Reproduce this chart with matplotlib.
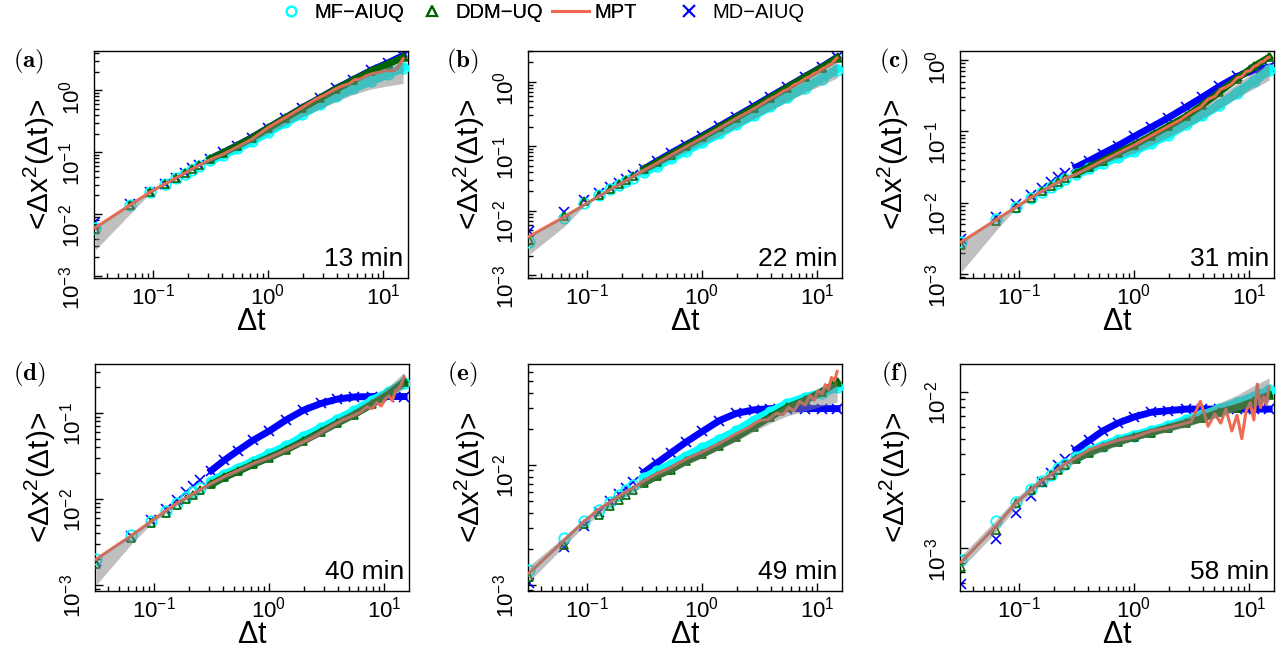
import numpy as np
import matplotlib
matplotlib.use("Agg")
import matplotlib.pyplot as plt
from matplotlib.lines import Line2D
from matplotlib.ticker import LogLocator, NullFormatter, LogFormatterSciNotation

plt.rcParams["font.family"] = ["Liberation Sans", "DejaVu Sans"]
plt.rcParams["mathtext.fontset"] = "custom"
plt.rcParams["mathtext.rm"] = "Liberation Sans"
plt.rcParams["mathtext.it"] = "Liberation Sans:italic"
plt.rcParams["mathtext.bf"] = "Liberation Sans:bold"

# lag times (s) at which the estimator markers are shown
lag_marker = [0.0315, 0.063, 0.0945, 0.126, 0.1575, 0.189, 0.2205, 0.252, 0.315,
              0.4095, 0.5355, 0.7245, 1.008, 1.4175, 1.9845, 2.835, 3.9375,
              5.5125, 7.875, 11.025, 14.9625]
# lag times (s) for the MPT curve
lag_mpt = [0.0315, 0.063, 0.0945, 0.126, 0.1575, 0.189, 0.2205, 0.252, 0.315,
           0.4095, 0.5355, 0.7245, 1.008, 1.4175, 1.9845, 2.52, 3.15, 3.78, 4.41,
           5.04, 5.67, 6.3, 7.0875, 7.875, 8.6625, 9.45, 10.2375, 11.025,
           11.8125, 12.6, 13.3875, 14.175, 14.9625]

panel_tags = ["(a)", "(b)", "(c)", "(d)", "(e)", "(f)"]
times = ["13 min", "22 min", "31 min", "40 min", "49 min", "58 min"]

# MSD values, given as log10 of <dx^2>
mf_a = [-2.22, -1.855, -1.645, -1.516, -1.425, -1.345, -1.28, -1.22, -1.13, -1.04, -0.94,
        -0.82, -0.67, -0.52, -0.38, -0.23, -0.10, 0.03, 0.15, 0.26, 0.36]
ddm_a = [-2.24, -1.86, -1.645, -1.515, -1.415, -1.335, -1.265, -1.205, -1.11, -1.01, -0.90,
         -0.77, -0.61, -0.45, -0.29, -0.13, 0.02, 0.16, 0.31, 0.42, 0.53]
md_a = [-2.13, -1.84, -1.64, -1.51, -1.41, -1.33, -1.26, -1.20, -1.105, -1.005, -0.895,
        -0.765, -0.605, -0.445, -0.285, -0.125, 0.03, 0.17, 0.32, 0.44, 0.56]
mpt_a = [-2.22, -1.855, -1.645, -1.516, -1.42, -1.34, -1.27, -1.21, -1.12, -1.03, -0.92,
         -0.79, -0.60, -0.44, -0.28, -0.16, -0.07, 0.01, 0.07, 0.10, 0.17, 0.18, 0.23,
         0.26, 0.28, 0.29, 0.31, 0.32, 0.31, 0.32, 0.36, 0.44, 0.51]
lo_a = [-2.58, -2.00, -1.66, -1.53, -1.44, -1.36, -1.29, -1.23, -1.15, -1.06, -0.96,
        -0.84, -0.70, -0.56, -0.43, -0.30, -0.18, -0.07, 0.02, 0.07, 0.11]
hi_a = [-2.22, -1.85, -1.64, -1.51, -1.41, -1.33, -1.26, -1.20, -1.11, -1.01, -0.90,
        -0.77, -0.61, -0.45, -0.29, -0.13, 0.02, 0.15, 0.28, 0.38, 0.47]

mf_b = [-2.48, -2.11, -1.88, -1.76, -1.67, -1.60, -1.54, -1.49, -1.40, -1.30, -1.19,
        -1.07, -0.94, -0.80, -0.66, -0.52, -0.38, -0.24, -0.09, 0.05, 0.19]
ddm_b = [-2.46, -2.08, -1.85, -1.75, -1.66, -1.58, -1.52, -1.46, -1.36, -1.25, -1.13,
         -1.00, -0.86, -0.71, -0.56, -0.40, -0.25, -0.09, 0.07, 0.22, 0.37]
md_b = [-2.31, -2.02, -1.84, -1.73, -1.64, -1.57, -1.51, -1.45, -1.35, -1.23, -1.11,
        -0.98, -0.84, -0.69, -0.54, -0.38, -0.23, -0.08, 0.08, 0.23, 0.38]
mpt_b = [-2.40, -2.10, -1.91, -1.78, -1.68, -1.60, -1.53, -1.47, -1.37, -1.26, -1.14,
         -1.01, -0.87, -0.72, -0.57, -0.47, -0.37, -0.28, -0.22, -0.15, -0.11, -0.05,
         -0.01, 0.05, 0.08, 0.13, 0.15, 0.20, 0.22, 0.26, 0.28, 0.33, 0.37]
lo_b = [-2.68, -2.25, -1.93, -1.79, -1.69, -1.62, -1.56, -1.50, -1.41, -1.31, -1.21,
        -1.09, -0.97, -0.84, -0.71, -0.57, -0.44, -0.31, -0.17, -0.05, 0.06]
hi_b = [-2.40, -2.09, -1.88, -1.75, -1.65, -1.58, -1.51, -1.45, -1.35, -1.24, -1.12,
        -0.99, -0.85, -0.70, -0.55, -0.40, -0.26, -0.11, 0.05, 0.19, 0.33]

mf_c = [-2.55, -2.23, -2.06, -1.94, -1.85, -1.78, -1.72, -1.67, -1.60, -1.52, -1.44,
        -1.36, -1.27, -1.16, -1.05, -0.90, -0.77, -0.63, -0.46, -0.30, -0.14]
ddm_c = [-2.59, -2.25, -2.07, -1.94, -1.84, -1.77, -1.71, -1.66, -1.59, -1.50, -1.41,
         -1.30, -1.19, -1.06, -0.93, -0.79, -0.63, -0.45, -0.26, -0.09, 0.04]
md_c = [-2.51, -2.20, -2.02, -1.89, -1.79, -1.71, -1.645, -1.59, -1.50, -1.41, -1.31,
        -1.20, -1.07, -0.94, -0.81, -0.66, -0.52, -0.37, -0.23, -0.14, -0.10]
mpt_c = [-2.55, -2.24, -2.06, -1.93, -1.84, -1.77, -1.71, -1.66, -1.60, -1.505, -1.41,
         -1.305, -1.19, -1.06, -0.93, -0.84, -0.73, -0.66, -0.55, -0.51, -0.41, -0.38,
         -0.33, -0.25, -0.23, -0.16, -0.15, -0.09, -0.07, -0.03, -0.02, 0.02, 0.04]
lo_c = [-2.97, -2.39, -2.08, -1.96, -1.87, -1.80, -1.74, -1.69, -1.62, -1.54, -1.46,
        -1.38, -1.30, -1.19, -1.08, -0.95, -0.82, -0.68, -0.53, -0.40, -0.28]
hi_c = [-2.55, -2.23, -2.05, -1.92, -1.83, -1.76, -1.70, -1.65, -1.58, -1.49, -1.40,
        -1.30, -1.19, -1.07, -0.95, -0.81, -0.66, -0.50, -0.33, -0.17, -0.04]

mf_d = [-2.70, -2.42, -2.26, -2.14, -2.05, -1.98, -1.92, -1.87, -1.80, -1.72, -1.65,
        -1.57, -1.48, -1.39, -1.28, -1.18, -1.08, -0.98, -0.86, -0.76, -0.65]
ddm_d = [-2.76, -2.45, -2.28, -2.16, -2.07, -2.00, -1.95, -1.90, -1.83, -1.75, -1.68,
         -1.60, -1.52, -1.43, -1.33, -1.22, -1.12, -1.02, -0.90, -0.78, -0.64]
md_d = [-2.72, -2.43, -2.25, -2.12, -2.01, -1.92, -1.85, -1.78, -1.67, -1.55, -1.44,
        -1.32, -1.21, -1.08, -0.97, -0.89, -0.84, -0.815, -0.81, -0.81, -0.81]
mpt_d = [-2.70, -2.43, -2.26, -2.14, -2.05, -1.99, -1.94, -1.89, -1.82, -1.74, -1.67,
         -1.59, -1.52, -1.43, -1.34, -1.27, -1.19, -1.13, -1.08, -1.05, -1.02, -0.99,
         -0.93, -0.95, -0.88, -0.92, -0.84, -0.80, -0.86, -0.74, -0.72, -0.66, -0.58]
lo_d = [-3.00, -2.53, -2.29, -2.17, -2.08, -2.02, -1.97, -1.92, -1.85, -1.77, -1.70,
        -1.62, -1.55, -1.46, -1.36, -1.26, -1.15, -1.05, -0.93, -0.82, -0.72]
hi_d = [-2.69, -2.41, -2.25, -2.13, -2.04, -1.97, -1.92, -1.87, -1.80, -1.72, -1.64,
        -1.56, -1.48, -1.39, -1.29, -1.18, -1.07, -0.96, -0.83, -0.69, -0.53]

mf_e = [-2.875, -2.61, -2.47, -2.375, -2.31, -2.25, -2.21, -2.17, -2.11, -2.05, -2.00,
        -1.93, -1.86, -1.79, -1.72, -1.63, -1.56, -1.49, -1.44, -1.40, -1.35]
ddm_e = [-2.93, -2.67, -2.49, -2.42, -2.34, -2.29, -2.25, -2.21, -2.15, -2.09, -2.04,
         -1.97, -1.91, -1.84, -1.77, -1.68, -1.60, -1.52, -1.46, -1.39, -1.31]
md_e = [-2.98, -2.68, -2.51, -2.39, -2.30, -2.24, -2.19, -2.14, -2.06, -1.98, -1.90,
        -1.81, -1.72, -1.63, -1.57, -1.54, -1.53, -1.53, -1.53, -1.53, -1.53]
mpt_e = [-2.90, -2.63, -2.47, -2.37, -2.31, -2.26, -2.22, -2.19, -2.13, -2.07, -2.02,
         -1.95, -1.89, -1.82, -1.74, -1.69, -1.63, -1.62, -1.57, -1.58, -1.52, -1.55,
         -1.47, -1.50, -1.42, -1.46, -1.38, -1.41, -1.33, -1.37, -1.27, -1.30, -1.22]
lo_e = [-2.97, -2.68, -2.51, -2.42, -2.35, -2.30, -2.26, -2.23, -2.17, -2.11, -2.06,
        -2.00, -1.94, -1.87, -1.80, -1.72, -1.65, -1.59, -1.55, -1.51, -1.475]
hi_e = [-2.84, -2.60, -2.45, -2.36, -2.29, -2.24, -2.20, -2.17, -2.11, -2.05, -2.00,
        -1.93, -1.87, -1.80, -1.73, -1.65, -1.57, -1.49, -1.42, -1.36, -1.30]

mf_f = [-3.077, -2.83, -2.705, -2.62, -2.57, -2.53, -2.49, -2.46, -2.42, -2.38, -2.345,
        -2.31, -2.28, -2.25, -2.22, -2.18, -2.15, -2.11, -2.07, -2.03, -1.99]
ddm_f = [-3.12, -2.885, -2.71, -2.63, -2.575, -2.535, -2.50, -2.47, -2.43, -2.39, -2.355,
         -2.32, -2.29, -2.26, -2.23, -2.20, -2.17, -2.13, -2.10, -2.06, -2.02]
md_f = [-3.23, -2.94, -2.775, -2.67, -2.58, -2.52, -2.47, -2.43, -2.37, -2.31, -2.25,
        -2.20, -2.16, -2.13, -2.12, -2.11, -2.11, -2.11, -2.11, -2.11, -2.11]
mpt_f = [-3.09, -2.86, -2.71, -2.63, -2.57, -2.53, -2.49, -2.46, -2.42, -2.37, -2.34,
         -2.31, -2.29, -2.25, -2.23, -2.21, -2.19, -2.06, -2.22, -2.14, -2.20, -2.11,
         -2.25, -2.15, -2.30, -2.12, -2.07, -2.18, -1.95, -2.10, -2.03, -2.08, -1.97]
lo_f = [-3.13, -2.90, -2.74, -2.65, -2.60, -2.56, -2.52, -2.49, -2.45, -2.41, -2.38,
        -2.345, -2.31, -2.28, -2.255, -2.225, -2.19, -2.16, -2.12, -2.09, -2.06]
hi_f = [-3.05, -2.82, -2.68, -2.60, -2.55, -2.51, -2.475, -2.445, -2.40, -2.36, -2.325,
        -2.29, -2.26, -2.23, -2.20, -2.16, -2.12, -2.07, -2.02, -1.96, -1.91]

# y-axis limits of each panel
ylims = [(0.00093, 4.3), (0.0009, 3.0), (0.00088, 1.34),
         (0.00085, 0.37), (0.00089, 0.0695), (0.00053, 0.0151)]

panels = [
    (mf_a, ddm_a, md_a, mpt_a, lo_a, hi_a),
    (mf_b, ddm_b, md_b, mpt_b, lo_b, hi_b),
    (mf_c, ddm_c, md_c, mpt_c, lo_c, hi_c),
    (mf_d, ddm_d, md_d, mpt_d, lo_d, hi_d),
    (mf_e, ddm_e, md_e, mpt_e, lo_e, hi_e),
    (mf_f, ddm_f, md_f, mpt_f, lo_f, hi_f),
]

CYAN = "#00FFFF"
GREEN = "#006400"
CORAL = "#EE6A50"
BLUE = "#0000FF"

W, H = 1286, 655
AX_W, AX_H = 314, 227
boxes = [(94, 51), (528, 51), (960, 51), (95, 364), (528, 364), (960, 364)]
ylabel_off = [55, 59, 67, 55, 58, 65]

fig = plt.figure(figsize=(W / 100, H / 100), dpi=100)

t = np.array(lag_marker)
tm = np.array(lag_mpt)
dense = slice(8, None)

for i, (mf, ddm, md, mpt, lo, hi) in enumerate(panels):
    left, top = boxes[i]
    ax = fig.add_axes([left / W, 1 - (top + AX_H) / H, AX_W / W, AX_H / H])
    mf = 10 ** np.array(mf)
    ddm = 10 ** np.array(ddm)
    md = 10 ** np.array(md)
    mpt = 10 ** np.array(mpt)
    lo = 10 ** np.array(lo)
    hi = 10 ** np.array(hi)

    ax.plot(t[dense], md[dense], color=BLUE, lw=5, zorder=2)
    ax.plot(t, md, ls="none", marker="x", color=BLUE, ms=6.5, mew=1.2, zorder=2)
    ax.plot(t[dense], mf[dense], color=CYAN, lw=6.5, solid_capstyle="round", zorder=3)
    ax.plot(t, mf, ls="none", marker="o", mfc="none", mec=CYAN, ms=7.5, mew=1.3, zorder=3)
    ax.plot(t[dense], ddm[dense], color=GREEN, lw=5, zorder=4)
    ax.plot(t, ddm, ls="none", marker="^", mfc="none", mec=GREEN, ms=6, mew=1.2, zorder=4)
    ax.plot(tm, mpt, color=CORAL, lw=2.2, zorder=5)
    ax.fill_between(t, lo, hi, color="#808080", alpha=0.5, lw=0, zorder=6)

    ax.set_xscale("log")
    ax.set_yscale("log")
    ax.set_xlim(0.0307, 16.5)
    ax.set_ylim(*ylims[i])
    ax.xaxis.set_major_locator(LogLocator(base=10, numticks=10))
    ax.yaxis.set_major_locator(LogLocator(base=10, numticks=10))
    for axis in (ax.xaxis, ax.yaxis):
        axis.set_minor_locator(LogLocator(base=10, subs=np.arange(2, 10), numticks=20))
        axis.set_minor_formatter(NullFormatter())
        axis.set_major_formatter(LogFormatterSciNotation())
    ax.tick_params(which="both", direction="in", top=False, right=False,
                   width=1, color="black", labelsize=16)
    ax.tick_params(which="major", length=6)
    ax.tick_params(which="minor", length=3.5)
    ax.tick_params(axis="x", pad=4)
    ax.tick_params(axis="y", labelrotation=90, pad=7)
    for s in ax.spines.values():
        s.set_linewidth(1.0)
        s.set_color("black")

    ax.set_xlabel(r"$\mathdefault{\Delta t}$", fontsize=22)
    ax.xaxis.set_label_coords(0.5, -0.195)
    ax.xaxis.label.set_va("center")
    ax.set_ylabel(r"<$\mathdefault{\Delta x^{2}(\Delta t)}$>", fontsize=21.5)
    ax.yaxis.set_label_coords(-ylabel_off[i] / AX_W, 0.5)
    ax.yaxis.label.set_va("center")

    ax.text(0.985, 0.055, times[i], transform=ax.transAxes, ha="right",
            va="baseline", fontsize=19)
    ax.text(-0.21, 0.955, r"$\mathbf{" + panel_tags[i] + "}$", transform=ax.transAxes,
            ha="center", va="center", fontsize=18, math_fontfamily="cm")

h_mf = Line2D([], [], ls="none", marker="o", mfc="none", mec=CYAN, ms=7, mew=1.5)
h_ddm = Line2D([], [], ls="none", marker="^", mfc="none", mec=GREEN, ms=7, mew=1.5)
h_mpt = Line2D([], [], color=CORAL, lw=2.2)
h_md = Line2D([], [], ls="none", marker="x", color=BLUE, ms=8, mew=1.6)

leg_kw = dict(frameon=False, fontsize=14.5, handlelength=1.85, handletextpad=0.25,
              columnspacing=0.45, borderpad=0, borderaxespad=0, loc="center left")
leg1 = fig.legend([h_mf, h_ddm, h_mpt], ["MF\u2212AIUQ", "DDM\u2212UQ", "MPT"], ncol=3,
                  bbox_to_anchor=(272 / W, 1 - 13 / H), **leg_kw)
fig.add_artist(leg1)
fig.legend([h_md], ["MD\u2212AIUQ"], bbox_to_anchor=(670 / W, 1 - 13 / H), **leg_kw)

fig.savefig("out.png", dpi=100)
